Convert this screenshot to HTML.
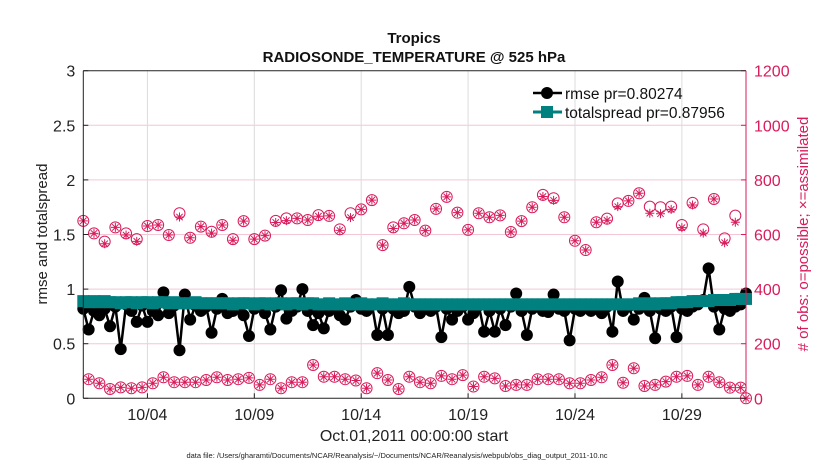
<!DOCTYPE html>
<html><head><meta charset="utf-8"><style>
body{margin:0;background:#fff;}
svg{display:block;font-family:"Liberation Sans",sans-serif;}
</style></head><body>
<svg id="chart" width="830" height="470" viewBox="0 0 830 470">
<g id="grid"></g>
<g id="obs"></g>
<g id="series"></g>
<g id="axes"></g>
<text x="414" y="43" text-anchor="middle" font-size="15" font-weight="bold" fill="#111">Tropics</text>
<text x="414" y="62" text-anchor="middle" font-size="15" font-weight="bold" fill="#111">RADIOSONDE_TEMPERATURE @ 525 hPa</text>
<text x="414" y="441" text-anchor="middle" font-size="16" fill="#222">Oct.01,2011 00:00:00 start</text>
<text x="397" y="458" text-anchor="middle" font-size="7.5" fill="#222">data file: /Users/gharamti/Documents/NCAR/Reanalysis/~/Documents/NCAR/Reanalysis/webpub/obs_diag_output_2011-10.nc</text>
<text transform="translate(47,234) rotate(-90)" text-anchor="middle" font-size="15" fill="#222">rmse and totalspread</text>
<text transform="translate(808,234) rotate(-90)" text-anchor="middle" font-size="15" fill="#d81b5c"># of obs: o=possible; ×=assimilated</text>
<g>
<line x1="533" y1="93" x2="562" y2="93" stroke="#000" stroke-width="2.5"/>
<circle cx="547" cy="93" r="6" fill="#000"/>
<text x="565" y="99" font-size="15.5" fill="#111">rmse pr=0.80274</text>
<line x1="533" y1="112" x2="562" y2="112" stroke="#00807f" stroke-width="3"/>
<rect x="541" y="106" width="12" height="12" fill="#00807f"/>
<text x="565" y="118" font-size="15.5" fill="#111">totalspread pr=0.87956</text>
</g>
</svg>
<script>
const xTickLabels=["10/04","10/09","10/14","10/19","10/24","10/29"];
const xTickDays=[3,8,13,18,23,28];
const yLeftTicks=[0,0.5,1,1.5,2,2.5,3];
const yRightTicks=[0,200,400,600,800,1000,1200];
const possible00=[650,604,574,626,604,583,631,635,598,678,588,629,610,635,583,649,583,596,650,659,659,653,671,668,619,678,692,726,561,626,641,653,614,694,738,680,617,678,663,670,609,649,700,745,733,663,577,543,645,658,714,723,751,702,700,702,635,716,619,730,586,669,0];
const assimDrop00=[0,0,8,0,6,8,0,0,0,14,0,0,5,0,4,0,0,0,6,8,0,0,4,0,4,16,0,0,0,4,0,0,0,0,0,0,0,0,0,0,0,0,0,6,8,0,0,0,0,6,12,0,0,24,24,10,10,8,14,0,16,24,0];
const possible06=[70,55,34,40,37,40,55,77,59,59,59,67,77,67,70,75,49,70,37,59,59,122,79,79,70,65,37,92,67,34,79,59,55,82,70,85,43,79,73,45,49,49,70,70,70,55,55,67,77,122,57,110,45,49,61,79,82,49,79,59,39,39];
const rmse=[0.82,0.63,0.80,0.76,0.82,0.66,0.84,0.45,0.86,0.80,0.70,0.85,0.70,0.80,0.76,0.97,0.78,0.85,0.44,0.95,0.72,0.85,0.80,0.84,0.60,0.82,0.91,0.78,0.80,0.84,0.76,0.57,0.82,0.86,0.78,0.63,0.84,0.99,0.73,0.80,0.84,1.00,0.80,0.67,0.78,0.64,0.80,0.84,0.76,0.72,0.84,0.90,0.82,0.80,0.86,0.58,0.82,0.58,0.82,0.78,0.80,1.02,0.84,0.78,0.82,0.80,0.84,0.56,0.82,0.72,0.80,0.84,0.72,0.78,0.85,0.61,0.80,0.61,0.82,0.67,0.84,0.96,0.80,0.58,0.82,0.84,0.80,0.79,0.95,0.82,0.80,0.53,0.82,0.80,0.84,0.80,0.82,0.78,0.84,0.61,1.07,0.80,0.84,0.72,0.82,0.92,0.80,0.55,0.82,0.80,0.84,0.56,0.82,0.80,0.84,0.86,0.90,1.19,0.84,0.63,0.82,0.80,0.84,0.86,0.96];
const spread=[0.89,0.88,0.89,0.88,0.89,0.88,0.88,0.87,0.88,0.88,0.87,0.88,0.88,0.87,0.88,0.88,0.87,0.88,0.87,0.87,0.87,0.88,0.87,0.87,0.87,0.87,0.87,0.87,0.86,0.87,0.87,0.87,0.86,0.87,0.87,0.86,0.87,0.87,0.86,0.87,0.87,0.86,0.87,0.87,0.86,0.86,0.87,0.86,0.86,0.87,0.86,0.86,0.87,0.86,0.86,0.86,0.87,0.86,0.86,0.86,0.87,0.86,0.86,0.86,0.86,0.86,0.86,0.86,0.86,0.86,0.86,0.86,0.86,0.86,0.86,0.86,0.86,0.86,0.86,0.86,0.86,0.86,0.86,0.86,0.86,0.86,0.86,0.86,0.86,0.86,0.86,0.86,0.86,0.86,0.86,0.86,0.86,0.86,0.86,0.86,0.86,0.86,0.86,0.86,0.87,0.86,0.87,0.86,0.87,0.87,0.87,0.88,0.88,0.88,0.89,0.89,0.89,0.89,0.9,0.9,0.9,0.9,0.91,0.91,0.91];

const L=83.3,R=746,T=70.7,B=398.3,DAYS=31;
const xDay=d=>L+(R-L)*d/DAYS;
const yL=v=>B-(B-T)*v/3;
const yR=v=>B-(B-T)*v/1200;
const NS="http://www.w3.org/2000/svg";
function mk(parent,tag,attrs){const e=document.createElementNS(NS,tag);for(const k in attrs)e.setAttribute(k,attrs[k]);parent.appendChild(e);return e;}
const grid=document.getElementById('grid'),axes=document.getElementById('axes'),obs=document.getElementById('obs'),series=document.getElementById('series');
const MAG="#d81b5c",TEAL="#00807f";

yLeftTicks.forEach((v,i)=>{
  if(i>0&&i<yLeftTicks.length-1){const g=mk(grid,'line',{x1:L,x2:R,y1:yL(v),y2:yL(v),stroke:"#f3c6d6","stroke-width":1});
  
  }
  const t=mk(axes,'text',{x:L-8,y:yL(v)+6,'text-anchor':'end','font-size':16,fill:'#222'});t.textContent=String(v);
  
  
  mk(axes,'line',{x1:L,x2:L+5,y1:yL(v),y2:yL(v),stroke:'#222'});
});
yRightTicks.forEach(v=>{
  const t=mk(axes,'text',{x:R+8,y:yR(v)+6,'font-size':16,fill:MAG});t.textContent=String(v);
  
  
  mk(axes,'line',{x1:R-5,x2:R,y1:yR(v),y2:yR(v),stroke:MAG});
});
xTickDays.forEach((d,i)=>{
  const g=mk(grid,'line',{x1:xDay(d),x2:xDay(d),y1:T,y2:B,stroke:"#dcdcdc","stroke-width":1});
  
  
  const t=mk(axes,'text',{x:xDay(d),y:420,'text-anchor':'middle','font-size':16,fill:'#222'});t.textContent=xTickLabels[i];
  
  
  mk(axes,'line',{x1:xDay(d),x2:xDay(d),y1:B,y2:B-5,stroke:'#222'});
});
mk(axes,'line',{x1:L,x2:R,y1:T,y2:T,stroke:'#222'});
mk(axes,'line',{x1:L,x2:R,y1:B,y2:B,stroke:'#222'});
mk(axes,'line',{x1:L,x2:L,y1:T,y2:B,stroke:'#222'});
mk(axes,'line',{x1:R,x2:R,y1:T,y2:B,stroke:MAG});

function circ(x,y){const c=mk(obs,'circle',{cx:x,cy:y,r:5.5,fill:'none',stroke:MAG,'stroke-width':1});return c;}
function star(x,y){const s=4.5,d=3.2;const p=mk(obs,'path',{d:`M${x-s},${y}H${x+s}M${x},${y-s}V${y+s}M${x-d},${y-d}L${x+d},${y+d}M${x-d},${y+d}L${x+d},${y-d}`,stroke:MAG,'stroke-width':1,fill:'none'});return p;}
possible00.forEach((v,i)=>{
  const x=xDay(i*0.5);
  const c=circ(x,yR(v));
  
  
  const s=star(x,yR(v-assimDrop00[i]));
  
  
});
possible06.forEach((v,i)=>{
  const x=xDay(0.25+i*0.5);
  const c=circ(x,yR(v));
  
  
  const s=star(x,yR(v));
  
  
});

const rp=rmse.map((v,i)=>xDay(i*0.25).toFixed(1)+','+yL(v).toFixed(1)).join(' ');
const rl=mk(series,'polyline',{points:rp,fill:'none',stroke:'#000','stroke-width':2.5});


rmse.forEach((v,i)=>{
  const c=mk(series,'circle',{cx:xDay(i*0.25),cy:yL(v),r:6,fill:'#000'});
  
  
});
const sp=spread.map((v,i)=>xDay(i*0.25).toFixed(1)+','+yL(v).toFixed(1)).join(' ');
const sl=mk(series,'polyline',{points:sp,fill:'none',stroke:TEAL,'stroke-width':3});


spread.forEach((v,i)=>{
  const r=mk(series,'rect',{x:xDay(i*0.25)-6,y:yL(v)-6,width:12,height:12,fill:TEAL});
  
  
});
</script>
</body></html>
